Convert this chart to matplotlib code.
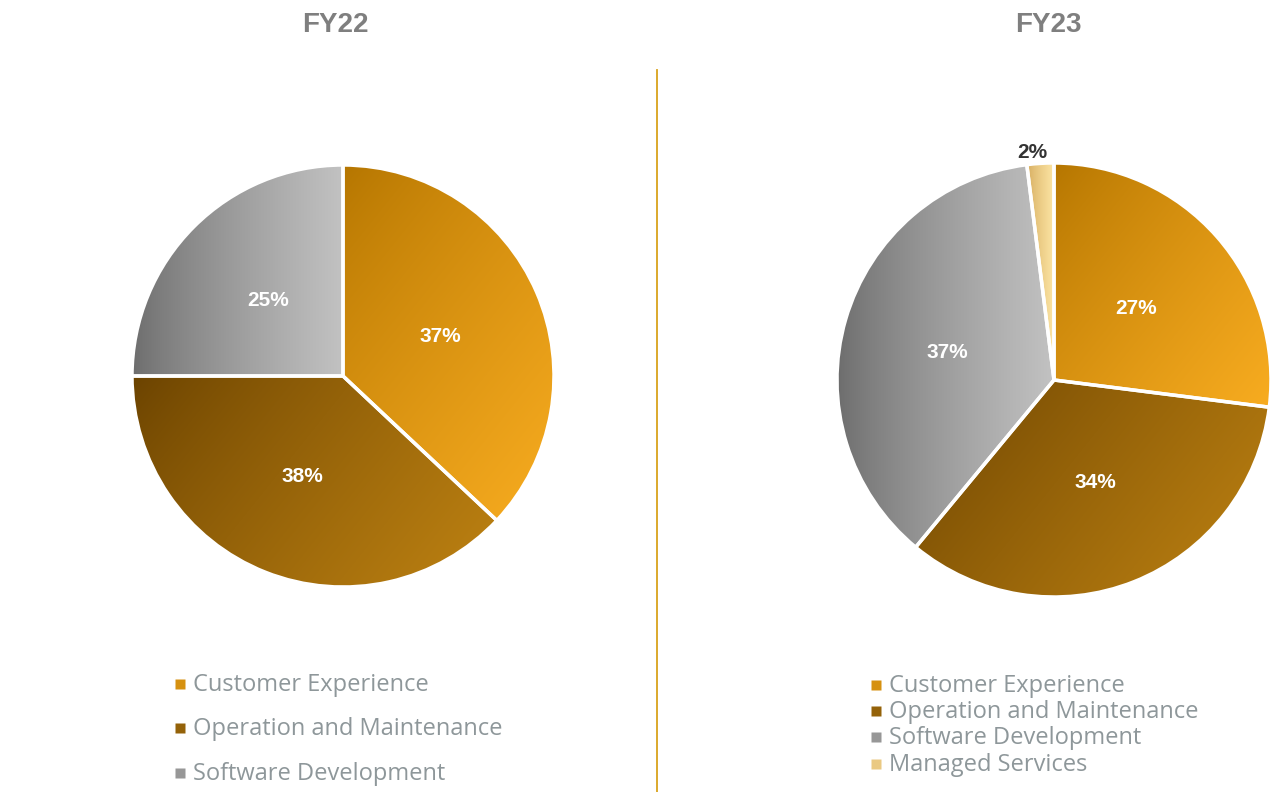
import numpy as np
import matplotlib.pyplot as plt
from matplotlib.colors import to_rgb

# data
categories = ['Customer Experience', 'Operation and Maintenance',
              'Software Development', 'Managed Services']
fy22 = [37, 38, 25]
fy23 = [27, 34, 37, 2]
titles = ['FY22', 'FY23']

# gradient (dark, light, direction) per category
grads = {
    'Customer Experience': ('#B47500', '#F8AC20', (1, -0.8)),
    'Operation and Maintenance': ('#6A4200', '#BE8212', (1, -0.8)),
    'Software Development': ('#6C6C6C', '#C2C2C2', (1, 0)),
    'Managed Services': ('#D6AC5E', '#FDE6A6', (1, 0)),
}

W, H = 1271, 792
fig = plt.figure(figsize=(W / 100, H / 100), dpi=100)
ax = fig.add_axes([0, 0, 1, 1])


def fill_gradient(w, c0, c1, d):
    x0, y0, x1, y1 = w.get_path().get_extents().extents
    n = 200
    xs, ys = np.meshgrid(np.linspace(x0, x1, n), np.linspace(y0, y1, n))
    d = np.array(d, float) / np.hypot(*d)
    proj = xs * d[0] + ys * d[1]
    t = (proj - proj.min()) / (proj.max() - proj.min())
    t = t ** 0.8
    a, b = np.array(to_rgb(c0)), np.array(to_rgb(c1))
    img = a + t[..., None] * (b - a)
    im = ax.imshow(img, extent=(x0, x1, y0, y1), origin='lower',
                   interpolation='bilinear', zorder=1)
    im.set_clip_path(w)
    w.set_facecolor('none')
    w.set_zorder(2)


def draw_pie(vals, center, r, explode, label_pos):
    wedges, _ = ax.pie(vals, center=center, radius=r, startangle=90,
                       counterclock=False, explode=explode,
                       wedgeprops=dict(edgecolor='white', linewidth=2.5))
    for w, cat in zip(wedges, categories):
        c0, c1, d = grads[cat]
        fill_gradient(w, c0, c1, d)
    for v, (x, y), col in zip(vals, label_pos[0], label_pos[1]):
        ax.text(x, H - y, f'{v}%', ha='center', va='center', color=col,
                fontsize=15, fontweight='bold', family='Liberation Sans',
                zorder=5)


draw_pie(fy22, (343, H - 376), 211, [0, 0, 0],
         ([(440, 336), (302, 476), (268, 300)], ['white'] * 3))
draw_pie(fy23, (1054, H - 380), 217, [0, 0, 0, 0.025],
         ([(1136, 308), (1095, 482), (947, 352), (1032, 153)],
          ['white'] * 3 + ['#333333']))

# titles
for t, x in zip(titles, [335, 1048]):
    ax.text(x, H - 25, t, ha='center', va='center', fontsize=20,
            fontweight='bold', color='#7F7F7F', family='Liberation Sans')

# divider
ax.plot([657, 657], [0, H - 70], color='#D9A21B', lw=1.3)

# legends
def legend(cats, x, ys):
    for cat, y in zip(cats, ys):
        c0, c1, _ = grads[cat]
        mid = (np.array(to_rgb(c0)) + np.array(to_rgb(c1))) / 2
        ax.plot(x, H - y, marker='s', ms=6.5, color=mid, mec='none')
        ax.text(x + 13, H - y - 1, cat, ha='left', va='center', fontsize=17,
                color='#8E979A', family='Open Sans')


legend(categories[:3], 180, [684, 728, 773])
legend(categories, 876, [685, 711, 737, 764])

ax.set_xlim(0, W)
ax.set_ylim(0, H)
ax.set_aspect('equal')
ax.axis('off')

fig.savefig('out.png', dpi=100)
